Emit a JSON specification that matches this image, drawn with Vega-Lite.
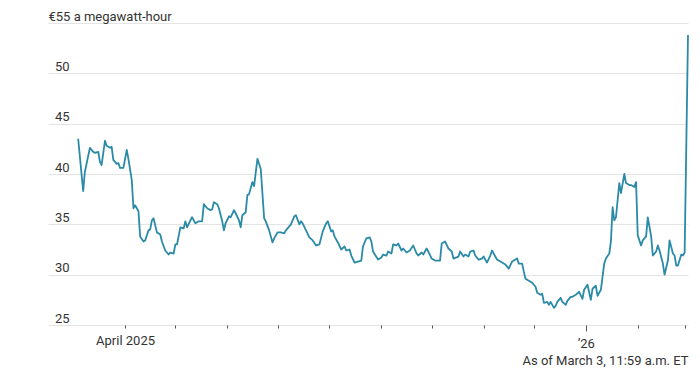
{
  "$schema": "https://vega.github.io/schema/vega-lite/v6.json",
  "width": 640,
  "height": 302,
  "autosize": {"type": "none"},
  "padding": {"left": 48, "top": 23, "right": 12, "bottom": 46},
  "config": {
    "view": {"stroke": null},
    "font": "Liberation Sans Narrow, Roboto, sans-serif"
  },
  "data": {
    "format": {"parse": {"date": "date:'%Y-%m-%d'"}},
    "values": [
      {"date": "2025-03-04", "price": 43.5},
      {"date": "2025-03-07", "price": 38.3},
      {"date": "2025-03-08", "price": 40.2},
      {"date": "2025-03-11", "price": 42.6},
      {"date": "2025-03-13", "price": 42.2},
      {"date": "2025-03-14", "price": 42.1},
      {"date": "2025-03-16", "price": 42.2},
      {"date": "2025-03-17", "price": 41.2},
      {"date": "2025-03-18", "price": 40.9},
      {"date": "2025-03-20", "price": 43.3},
      {"date": "2025-03-21", "price": 42.8},
      {"date": "2025-03-23", "price": 42.6},
      {"date": "2025-03-24", "price": 42.7},
      {"date": "2025-03-25", "price": 41.4},
      {"date": "2025-03-27", "price": 41.0},
      {"date": "2025-03-28", "price": 41.1},
      {"date": "2025-03-29", "price": 40.6},
      {"date": "2025-03-31", "price": 40.6},
      {"date": "2025-04-02", "price": 42.4},
      {"date": "2025-04-03", "price": 41.5},
      {"date": "2025-04-05", "price": 39.4},
      {"date": "2025-04-06", "price": 36.6},
      {"date": "2025-04-07", "price": 36.9},
      {"date": "2025-04-09", "price": 36.3},
      {"date": "2025-04-10", "price": 33.8},
      {"date": "2025-04-12", "price": 33.3},
      {"date": "2025-04-13", "price": 33.4},
      {"date": "2025-04-15", "price": 34.4},
      {"date": "2025-04-16", "price": 34.5},
      {"date": "2025-04-17", "price": 35.4},
      {"date": "2025-04-18", "price": 35.6},
      {"date": "2025-04-20", "price": 34.2},
      {"date": "2025-04-22", "price": 34.0},
      {"date": "2025-04-23", "price": 33.3},
      {"date": "2025-04-25", "price": 32.4},
      {"date": "2025-04-27", "price": 32.0},
      {"date": "2025-04-28", "price": 32.2},
      {"date": "2025-04-30", "price": 32.1},
      {"date": "2025-05-01", "price": 33.0},
      {"date": "2025-05-02", "price": 33.0},
      {"date": "2025-05-04", "price": 34.7},
      {"date": "2025-05-06", "price": 34.6},
      {"date": "2025-05-07", "price": 35.3},
      {"date": "2025-05-08", "price": 34.7},
      {"date": "2025-05-10", "price": 35.4},
      {"date": "2025-05-11", "price": 35.7},
      {"date": "2025-05-13", "price": 35.1},
      {"date": "2025-05-15", "price": 35.3},
      {"date": "2025-05-17", "price": 35.3},
      {"date": "2025-05-18", "price": 37.0},
      {"date": "2025-05-20", "price": 36.6},
      {"date": "2025-05-22", "price": 36.4},
      {"date": "2025-05-23", "price": 36.5},
      {"date": "2025-05-24", "price": 37.2},
      {"date": "2025-05-26", "price": 37.0},
      {"date": "2025-05-27", "price": 36.6},
      {"date": "2025-05-29", "price": 35.3},
      {"date": "2025-05-30", "price": 34.4},
      {"date": "2025-05-31", "price": 35.1},
      {"date": "2025-06-02", "price": 35.8},
      {"date": "2025-06-03", "price": 35.7},
      {"date": "2025-06-05", "price": 36.4},
      {"date": "2025-06-06", "price": 36.1},
      {"date": "2025-06-08", "price": 35.4},
      {"date": "2025-06-09", "price": 34.7},
      {"date": "2025-06-10", "price": 35.9},
      {"date": "2025-06-12", "price": 36.2},
      {"date": "2025-06-13", "price": 37.9},
      {"date": "2025-06-14", "price": 38.0},
      {"date": "2025-06-16", "price": 39.2},
      {"date": "2025-06-17", "price": 38.8},
      {"date": "2025-06-19", "price": 41.5},
      {"date": "2025-06-20", "price": 41.0},
      {"date": "2025-06-21", "price": 40.5},
      {"date": "2025-06-23", "price": 35.6},
      {"date": "2025-06-24", "price": 35.3},
      {"date": "2025-06-26", "price": 34.4},
      {"date": "2025-06-28", "price": 33.2},
      {"date": "2025-06-29", "price": 33.6},
      {"date": "2025-07-01", "price": 34.2},
      {"date": "2025-07-03", "price": 34.2},
      {"date": "2025-07-05", "price": 34.1},
      {"date": "2025-07-06", "price": 34.4},
      {"date": "2025-07-08", "price": 34.8},
      {"date": "2025-07-09", "price": 35.0},
      {"date": "2025-07-11", "price": 35.8},
      {"date": "2025-07-12", "price": 35.9},
      {"date": "2025-07-14", "price": 35.0},
      {"date": "2025-07-15", "price": 35.3},
      {"date": "2025-07-16", "price": 35.1},
      {"date": "2025-07-18", "price": 34.4},
      {"date": "2025-07-20", "price": 33.7},
      {"date": "2025-07-22", "price": 33.4},
      {"date": "2025-07-24", "price": 32.9},
      {"date": "2025-07-26", "price": 33.0},
      {"date": "2025-07-28", "price": 34.3},
      {"date": "2025-07-30", "price": 35.1},
      {"date": "2025-07-31", "price": 35.3},
      {"date": "2025-08-02", "price": 34.3},
      {"date": "2025-08-03", "price": 34.4},
      {"date": "2025-08-04", "price": 33.8},
      {"date": "2025-08-06", "price": 33.2},
      {"date": "2025-08-08", "price": 32.5},
      {"date": "2025-08-10", "price": 32.8},
      {"date": "2025-08-11", "price": 32.4},
      {"date": "2025-08-13", "price": 32.5},
      {"date": "2025-08-14", "price": 31.9},
      {"date": "2025-08-16", "price": 31.2},
      {"date": "2025-08-18", "price": 31.3},
      {"date": "2025-08-20", "price": 31.4},
      {"date": "2025-08-21", "price": 32.8},
      {"date": "2025-08-23", "price": 33.6},
      {"date": "2025-08-25", "price": 33.7},
      {"date": "2025-08-26", "price": 33.3},
      {"date": "2025-08-27", "price": 32.3},
      {"date": "2025-08-30", "price": 31.5},
      {"date": "2025-09-01", "price": 31.7},
      {"date": "2025-09-02", "price": 32.0},
      {"date": "2025-09-04", "price": 31.9},
      {"date": "2025-09-05", "price": 32.3},
      {"date": "2025-09-07", "price": 32.1},
      {"date": "2025-09-08", "price": 33.0},
      {"date": "2025-09-10", "price": 32.9},
      {"date": "2025-09-11", "price": 33.1},
      {"date": "2025-09-13", "price": 32.4},
      {"date": "2025-09-14", "price": 32.6},
      {"date": "2025-09-16", "price": 32.2},
      {"date": "2025-09-18", "price": 32.4},
      {"date": "2025-09-20", "price": 32.9},
      {"date": "2025-09-22", "price": 32.1},
      {"date": "2025-09-23", "price": 31.9},
      {"date": "2025-09-25", "price": 32.2},
      {"date": "2025-09-26", "price": 32.0},
      {"date": "2025-09-28", "price": 32.6},
      {"date": "2025-09-29", "price": 32.3},
      {"date": "2025-10-01", "price": 31.6},
      {"date": "2025-10-03", "price": 31.4},
      {"date": "2025-10-05", "price": 31.4},
      {"date": "2025-10-06", "price": 31.4},
      {"date": "2025-10-07", "price": 33.1},
      {"date": "2025-10-09", "price": 33.3},
      {"date": "2025-10-11", "price": 32.6},
      {"date": "2025-10-13", "price": 32.3},
      {"date": "2025-10-14", "price": 31.6},
      {"date": "2025-10-17", "price": 31.8},
      {"date": "2025-10-18", "price": 32.3},
      {"date": "2025-10-20", "price": 31.8},
      {"date": "2025-10-21", "price": 32.0},
      {"date": "2025-10-23", "price": 31.8},
      {"date": "2025-10-24", "price": 32.3},
      {"date": "2025-10-26", "price": 32.4},
      {"date": "2025-10-27", "price": 31.9},
      {"date": "2025-10-29", "price": 31.5},
      {"date": "2025-10-31", "price": 31.6},
      {"date": "2025-11-01", "price": 31.8},
      {"date": "2025-11-03", "price": 31.2},
      {"date": "2025-11-05", "price": 31.9},
      {"date": "2025-11-06", "price": 32.4},
      {"date": "2025-11-08", "price": 31.8},
      {"date": "2025-11-09", "price": 31.5},
      {"date": "2025-11-11", "price": 31.3},
      {"date": "2025-11-13", "price": 31.1},
      {"date": "2025-11-14", "price": 31.0},
      {"date": "2025-11-16", "price": 30.6},
      {"date": "2025-11-18", "price": 31.3},
      {"date": "2025-11-19", "price": 31.4},
      {"date": "2025-11-21", "price": 31.6},
      {"date": "2025-11-22", "price": 31.1},
      {"date": "2025-11-24", "price": 31.1},
      {"date": "2025-11-25", "price": 30.3},
      {"date": "2025-11-26", "price": 29.6},
      {"date": "2025-11-28", "price": 29.4},
      {"date": "2025-11-30", "price": 29.2},
      {"date": "2025-12-02", "price": 28.8},
      {"date": "2025-12-03", "price": 28.2},
      {"date": "2025-12-05", "price": 28.0},
      {"date": "2025-12-06", "price": 28.1},
      {"date": "2025-12-07", "price": 27.2},
      {"date": "2025-12-09", "price": 27.3},
      {"date": "2025-12-10", "price": 27.0},
      {"date": "2025-12-11", "price": 27.3},
      {"date": "2025-12-13", "price": 26.7},
      {"date": "2025-12-14", "price": 26.9},
      {"date": "2025-12-15", "price": 27.3},
      {"date": "2025-12-17", "price": 27.7},
      {"date": "2025-12-18", "price": 27.3},
      {"date": "2025-12-20", "price": 27.0},
      {"date": "2025-12-21", "price": 27.4},
      {"date": "2025-12-23", "price": 27.8},
      {"date": "2025-12-24", "price": 27.8},
      {"date": "2025-12-26", "price": 28.0},
      {"date": "2025-12-28", "price": 28.3},
      {"date": "2025-12-30", "price": 27.6},
      {"date": "2025-12-31", "price": 28.5},
      {"date": "2026-01-02", "price": 29.0},
      {"date": "2026-01-04", "price": 27.5},
      {"date": "2026-01-05", "price": 28.6},
      {"date": "2026-01-07", "price": 28.9},
      {"date": "2026-01-08", "price": 27.9},
      {"date": "2026-01-10", "price": 28.5},
      {"date": "2026-01-11", "price": 29.8},
      {"date": "2026-01-12", "price": 31.1},
      {"date": "2026-01-13", "price": 31.6},
      {"date": "2026-01-15", "price": 32.1},
      {"date": "2026-01-16", "price": 33.3},
      {"date": "2026-01-17", "price": 36.7},
      {"date": "2026-01-18", "price": 35.4},
      {"date": "2026-01-19", "price": 35.7},
      {"date": "2026-01-21", "price": 39.1},
      {"date": "2026-01-22", "price": 38.1},
      {"date": "2026-01-24", "price": 40.0},
      {"date": "2026-01-25", "price": 39.1},
      {"date": "2026-01-27", "price": 38.9},
      {"date": "2026-01-28", "price": 38.9},
      {"date": "2026-01-30", "price": 38.7},
      {"date": "2026-01-31", "price": 39.2},
      {"date": "2026-02-01", "price": 33.9},
      {"date": "2026-02-03", "price": 32.9},
      {"date": "2026-02-04", "price": 33.4},
      {"date": "2026-02-06", "price": 33.8},
      {"date": "2026-02-07", "price": 35.7},
      {"date": "2026-02-09", "price": 33.8},
      {"date": "2026-02-10", "price": 31.9},
      {"date": "2026-02-12", "price": 32.3},
      {"date": "2026-02-13", "price": 32.9},
      {"date": "2026-02-14", "price": 32.4},
      {"date": "2026-02-16", "price": 31.1},
      {"date": "2026-02-17", "price": 30.0},
      {"date": "2026-02-19", "price": 31.4},
      {"date": "2026-02-20", "price": 33.4},
      {"date": "2026-02-22", "price": 32.1},
      {"date": "2026-02-23", "price": 31.9},
      {"date": "2026-02-24", "price": 30.9},
      {"date": "2026-02-25", "price": 30.9},
      {"date": "2026-02-27", "price": 32.0},
      {"date": "2026-02-28", "price": 31.9},
      {"date": "2026-03-01", "price": 32.2},
      {"date": "2026-03-03", "price": 53.8}
    ]
  },
  "mark": {"type": "line", "color": "#2a8aa7", "strokeWidth": 1.8, "strokeJoin": "round"},
  "encoding": {
    "x": {
      "field": "date",
      "type": "temporal",
      "scale": {
        "domain": [{"year": 2025, "month": 2, "date": 14}, {"year": 2026, "month": 3, "date": 3}],
        "nice": false
      },
      "axis": {
        "values": [
          {"year": 2025, "month": 4, "date": 1},
          {"year": 2025, "month": 5, "date": 1},
          {"year": 2025, "month": 6, "date": 1},
          {"year": 2025, "month": 7, "date": 1},
          {"year": 2025, "month": 8, "date": 1},
          {"year": 2025, "month": 9, "date": 1},
          {"year": 2025, "month": 10, "date": 1},
          {"year": 2025, "month": 11, "date": 1},
          {"year": 2025, "month": 12, "date": 1},
          {"year": 2026, "month": 1, "date": 1},
          {"year": 2026, "month": 2, "date": 1},
          {"year": 2026, "month": 3, "date": 1}
        ],
        "labelExpr": "month(datum.value) == 3 ? 'April 2025' : (month(datum.value) == 0 ? '’26' : '')",
        "grid": false,
        "domain": false,
        "ticks": true,
        "tickColor": "#555555",
        "tickSize": {"condition": {"test": "month(datum.value) == 0", "value": 6}, "value": 3},
        "labelFlush": false,
        "labelOverlap": false,
        "labelPadding": 6,
        "labelFontSize": 13,
        "labelColor": "#333333",
        "title": "As of March 3, 11:59 a.m. ET",
        "titleAnchor": "end",
        "titleFontWeight": "normal",
        "titleFontSize": 13,
        "titleColor": "#333333",
        "titlePadding": 4
      }
    },
    "y": {
      "field": "price",
      "type": "quantitative",
      "scale": {"domain": [25, 55], "nice": false, "zero": false},
      "axis": {
        "values": [25, 30, 35, 40, 45, 50, 55],
        "title": null,
        "domain": false,
        "ticks": false,
        "grid": true,
        "gridColor": "#e4e4e4",
        "gridWidth": 1,
        "labelAlign": "left",
        "labelBaseline": "alphabetic",
        "labelOffset": -3,
        "labelPadding": {"condition": {"test": "datum.value == 55", "value": 0}, "value": -6.5},
        "labelExpr": "datum.value == 55 ? '€55 a megawatt-hour' : datum.label",
        "labelFontSize": 13,
        "labelColor": "#333333"
      }
    }
  }
}
